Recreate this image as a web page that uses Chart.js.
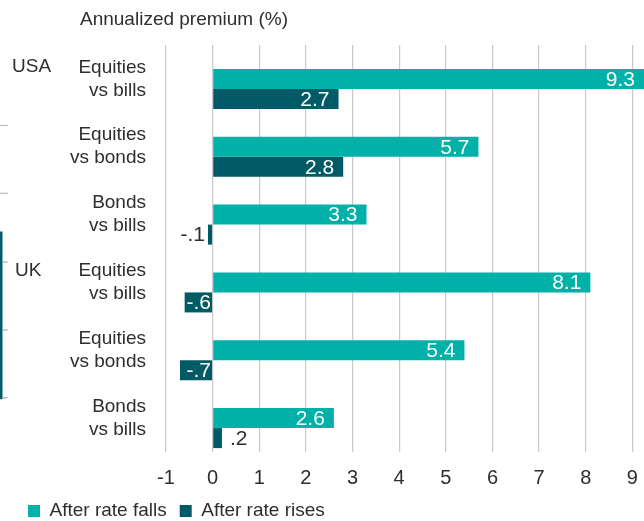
<!DOCTYPE html>
<html>
<head>
<meta charset="utf-8">
<script src="https://cdn.jsdelivr.net/npm/chart.js@4"></script>
<style>
  html, body { margin: 0; padding: 0; background: #fff; }
  #wrap { width: 644px; height: 521px; }
</style>
</head>
<body>
<div id="wrap"><canvas id="chart"></canvas></div>
<script>
const categories = [
    ['Equities', 'vs bills'],
    ['Equities', 'vs bonds'],
    ['Bonds', 'vs bills'],
    ['Equities', 'vs bills'],
    ['Equities', 'vs bonds'],
    ['Bonds', 'vs bills'],
];
const afterFalls = [9.3, 5.7, 3.3, 8.1, 5.4, 2.6];
const afterRises = [2.7, 2.8, -0.1, -0.6, -0.7, 0.2];
const countries = ['USA', 'UK'];
const countryRows = [0, 3];
const countryX = [12, 15];
const xMin = -1, xMax = 9.25;

const TEAL = '#00b1a9';
const DARK = '#005b66';
const TEXT = '#2e2e2e';
const FONT = '"Liberation Sans", Arial, sans-serif';

// "-0.1" -> "-.1", "0.2" -> ".2"
function fmt(v) {
    return v.toFixed(1).replace(/^(-?)0\./, '$1.');
}

const barLabels = {
    id: 'barLabels',
    afterDatasetsDraw(chart) {
        const ctx = chart.ctx;
        ctx.save();
        ctx.font = '21px ' + FONT;
        ctx.textBaseline = 'middle';
        [1, 2].forEach(di => {
            const meta = chart.getDatasetMeta(di);
            const vals = chart.data.datasets[di].data;
            meta.data.forEach((el, i) => {
                const v = vals[i];
                const txt = fmt(v);
                const w = ctx.measureText(txt).width;
                const len = Math.abs(el.x - el.base);
                const right = Math.min(el.x, chart.chartArea.right);
                if (len >= w) {
                    ctx.fillStyle = '#fff';
                    ctx.textAlign = 'right';
                    if (v >= 0) ctx.fillText(txt, right - 9, el.y + 1);
                    else ctx.fillText(txt, el.base - 1, el.y + 1);
                } else {
                    ctx.fillStyle = TEXT;
                    if (v >= 0) { ctx.textAlign = 'left'; ctx.fillText(txt, el.x + 8, el.y + 1); }
                    else { ctx.textAlign = 'right'; ctx.fillText(txt, el.x - 3, el.y + 1); }
                }
            });
        });
        ctx.restore();
    }
};

const extras = {
    id: 'extras',
    afterDraw(chart) {
        const ctx = chart.ctx;
        const y = chart.scales.y;
        const top = chart.chartArea.top, bottom = chart.chartArea.bottom;
        const band = (bottom - top) / categories.length;
        ctx.save();
        // axis title
        ctx.font = '19px ' + FONT;
        ctx.fillStyle = TEXT;
        ctx.textAlign = 'left';
        ctx.textBaseline = 'middle';
        ctx.fillText('Annualized premium (%)', 80, 20);
        // country labels next to their first row
        countries.forEach((c, k) => {
            ctx.fillText(c, countryX[k], y.getPixelForTick(countryRows[k]) - 12);
        });
        // clipped bracket marks at the left edge
        ctx.fillStyle = '#bdbdbd';
        [1, 2].forEach(k => ctx.fillRect(0, top + band * k + 12, 8, 1.2));
        ctx.fillStyle = DARK;
        ctx.fillRect(0, top + band * 3 - 17, 2.5, band * 2 + 32);
        ctx.fillStyle = '#9aa9aa';
        [3, 4, 5].forEach(k => ctx.fillRect(2.5, top + band * k + 13, 5, 1.2));
        ctx.restore();
    }
};

new Chart(document.getElementById('chart'), {
    type: 'bar',
    data: {
        labels: categories,
        datasets: [
            // empty slot that pushes the pair of bars below the band centre
            { label: '', data: categories.map(() => null), backgroundColor: 'rgba(0,0,0,0)' },
            { label: 'After rate falls', data: afterFalls, backgroundColor: TEAL },
            { label: 'After rate rises', data: afterRises, backgroundColor: DARK },
        ],
    },
    options: {
        indexAxis: 'y',
        responsive: true,
        maintainAspectRatio: false,
        animation: false,
        datasets: { bar: { categoryPercentage: 0.885, barPercentage: 1.0 } },
        layout: { padding: { top: 45, left: 15, right: 0, bottom: 0 } },
        plugins: {
            tooltip: { enabled: false },
            legend: {
                position: 'bottom',
                align: 'start',
                maxHeight: 32.5,
                labels: {
                    filter: item => item.text !== '',
                    boxWidth: 12,
                    boxHeight: 12,
                    padding: 13,
                    color: TEXT,
                    font: { family: FONT, size: 19 },
                },
            },
        },
        scales: {
            x: {
                min: xMin,
                max: xMax,
                afterFit: s => { s.height = 36.5; s.paddingLeft = 0; s.paddingRight = 0; },
                ticks: {
                    stepSize: 1,
                    includeBounds: false,
                    color: TEXT,
                    padding: 14,
                    font: { family: FONT, size: 20 },
                },
                grid: { color: '#c9c9c9', lineWidth: 1.2, drawTicks: false },
                border: { display: false },
            },
            y: {
                afterFit: s => { s.width = 151; s.paddingTop = 0; s.paddingBottom = 0; },
                ticks: {
                    color: TEXT,
                    padding: 20,
                    font: { family: FONT, size: 19, lineHeight: 1.21 },
                },
                grid: { display: false, drawTicks: false },
                border: { display: false },
            },
        },
    },
    plugins: [barLabels, extras],
});
</script>
</body>
</html>
